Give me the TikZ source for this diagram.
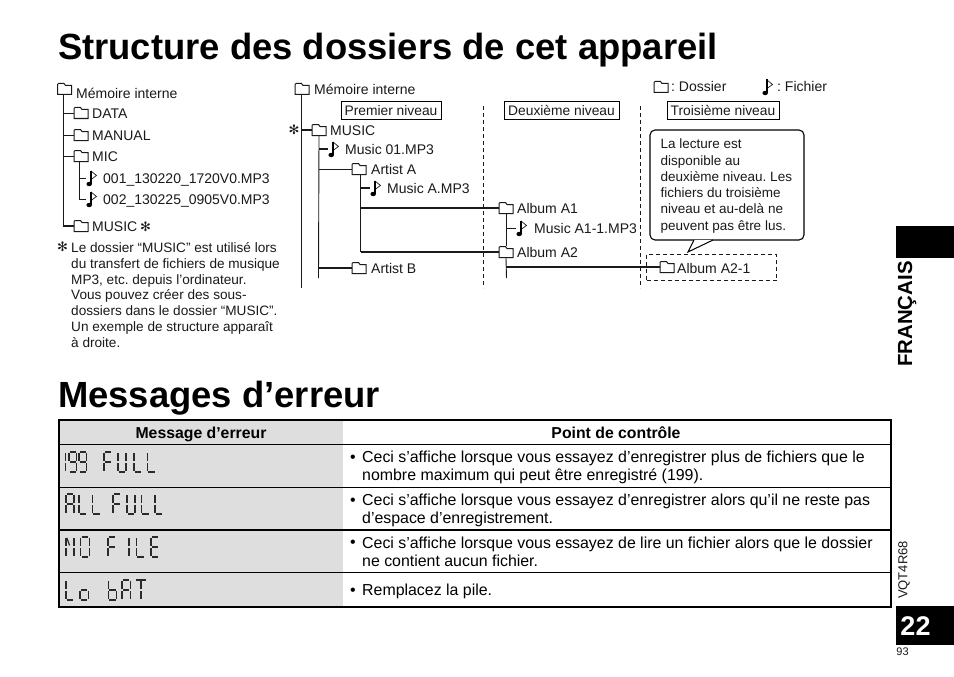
\documentclass[tikz,border=0pt]{standalone}
\usepackage{fontspec}
\setmainfont{Liberation Sans}
\newfontfamily\symfont{DejaVu Sans}
\definecolor{ink}{HTML}{1A1A1A}
\definecolor{panel}{HTML}{DEDEDE}
\definecolor{lcdink}{HTML}{2A2A2A}
\newcommand{\fsz}[1]{\fontsize{#1}{#1}\selectfont}
\frenchspacing
\tikzset{
  txt/.style={anchor=west,inner sep=0pt,text=ink,font=\fsz{14},text height=14pt,text depth=3pt},
  blk/.style={anchor=west,inner sep=0pt,text=ink,align=left},
  sym/.style={anchor=center,inner sep=0pt,text=ink,font=\symfont\fsz{13}},
  title/.style={anchor=base west,inner sep=0pt,text=black,font=\bfseries\fsz{36.4}},
  cell/.style={anchor=west,inner sep=0pt,text=black,align=left,font=\fontsize{15.9}{18}\selectfont},
  bul/.style={anchor=center,inner sep=0pt,text=black,font=\fsz{15.9}},
  head/.style={anchor=center,inner sep=0pt,text=black,font=\bfseries\fsz{15.8},text height=14pt,text depth=3pt},
  lvl/.style={draw=black,line width=1pt,inner sep=0pt,text=ink,font=\fsz{13.8},minimum height=17pt},
  ln/.style={draw=ink,line width=.9pt},
  lnb/.style={draw=ink,line width=1.8pt},
  dsh/.style={draw=ink,line width=.9pt,dash pattern=on 4pt off 3pt},
  fld box/.style={inner sep=0pt,minimum width=14pt,minimum height=11pt},
  nte box/.style={inner sep=0pt,minimum width=9pt,minimum height=15pt},
  lcdseg/.style={draw=lcdink,line width=1.2pt},
  rule/.style={draw=black,line width=1pt},
  rulec/.style={draw=black,line width=2pt},
}
% folder icon: named node and outline
\newcommand{\fld}[3]{%
  \node[fld box] (#1) at (#2,#3) {};
  \draw[ink,line width=1pt,fill=white,shift={(#2,#3)}]
    (-7,5.5)--(-7,-4.5)--(-6,-5.5)--(-.5,-5.5)--(1,-3.5)--(7,-3.5)--(7,5.5)--cycle;}
% music note icon: named node and outline
\newcommand{\nte}[3]{%
  \node[nte box] (#1) at (#2,#3) {};
  \begin{scope}[shift={(#2,#3)}]
    \draw[ink,line width=.7pt] (0,-7)--(5.5,-2.5)--(0,1.5);
    \draw[black,line width=1.6pt] (0,-7.5)--(0,6);
    \fill[black] (-1.8,6) ellipse (2.8pt and 2.2pt);
  \end{scope}}
% seven-segment display
\newcommand{\LcdSa}{\draw[lcdseg] (.12,0)--(.88,0);}
\newcommand{\LcdSb}{\draw[lcdseg] (1,.05)--(1,.45);}
\newcommand{\LcdSc}{\draw[lcdseg] (1,.55)--(1,.95);}
\newcommand{\LcdSd}{\draw[lcdseg] (.12,1)--(.88,1);}
\newcommand{\LcdSe}{\draw[lcdseg] (0,.55)--(0,.95);}
\newcommand{\LcdSf}{\draw[lcdseg] (0,.05)--(0,.45);}
\newcommand{\LcdSg}{\draw[lcdseg] (.12,.5)--(.88,.5);}
\newcommand{\LcdSh}{\draw[lcdseg] (.1,.04)--(.45,.42);}
\newcommand{\LcdSj}{\draw[lcdseg] (.5,.05)--(.5,.45);}
\newcommand{\LcdSk}{\draw[lcdseg] (.5,.55)--(.5,.95);}
\newcommand{\lcdglyph}[4]{%
  \begin{scope}[shift={(#1,#2)},x=#3pt,y=-20pt]
    \foreach \s in {#4} {\csname LcdS\s\endcsname}
  \end{scope}}
\begin{document}
\begin{tikzpicture}[x=1pt,y=-1pt]
\useasboundingbox (0,0) rectangle (954,677);
\fill[white] (0,0) rectangle (954,677);

% titles
\node[title] (t1) at (58,60) {Structure des dossiers de cet appareil};
\node[title] (t2) at (58,407) {Messages d’erreur};

% left tree
\fld{a0}{64.5}{89}
\node[txt] (a0t) at (76,93) {Mémoire interne};
\fld{a1}{81}{113}
\fld{a2}{81}{135}
\fld{a3}{81}{156}
\fld{a4}{81}{226}
\nte{a5}{91}{178}
\nte{a6}{91}{199}
\node[txt] (a1t) at (92,113) {DATA};
\node[txt] (a2t) at (92,135) {MANUAL};
\node[txt] (a3t) at (92,156) {MIC};
\node[txt] (a5t) at (103,178) {001\_130220\_1720V0.MP3};
\node[txt] (a6t) at (103,199) {002\_130225\_0905V0.MP3};
\node[txt] (a4t) at (92,226) {MUSIC};
\node[sym] (a4s) at (145.5,227) {✻};
\draw[ln] ([xshift=-1pt]a0.south) |- (a1.west);
\draw[ln] ([xshift=-1pt]a0.south) |- (a2.west);
\draw[ln] ([xshift=-1pt]a0.south) |- (a3.west);
\draw[lnb] ([xshift=-1pt]a0.south) |- (a4.west);
\draw[ln] ([xshift=-1.5pt]a3.south) |- (a5.west);
\draw[ln] ([xshift=-1.5pt]a3.south) |- (a6.west);

% footnote
\node[sym] (n0) at (62.5,247) {✻};
\node[blk,font=\fontsize{13.6}{15.9}\selectfont] (n1) at (71,295) {Le dossier “MUSIC” est utilisé lors\\du transfert de fichiers de musique\\MP3, etc. depuis l’ordinateur.\\Vous pouvez créer des sous-\\dossiers dans le dossier “MUSIC”.\\Un exemple de structure apparaît\\à droite.};

% right tree: level markers
\node[lvl,minimum width=100pt] (l1) at (391,110.5) {Premier niveau};
\node[lvl,minimum width=115pt] (l2) at (561.5,110.5) {Deuxième niveau};
\node[lvl,minimum width=112pt] (l3) at (723,110.5) {Troisième niveau};
\coordinate (d1a) at (483,106);
\coordinate (d1b) at (483,288);
\coordinate (d2a) at (640.5,106);
\coordinate (d2b) at (640.5,288);
\draw[dsh] (d1a) -- (d1b);
\draw[dsh] (d2a) -- (d2b);

\coordinate (endb) at (301.5,288);
\coordinate (endc) at (318.5,278);
\coordinate (endd) at (506.5,278);

\draw[ln] (301.5,95) -- (endb);
\fld{b0}{302}{89}
\node[txt] (b0t) at (314,89) {Mémoire interne};
\node[sym] (b1s) at (294,130) {✻};
\fld{b1}{319}{130}
\node[txt] (b1t) at (330,130) {MUSIC};
\nte{b2}{333}{149}
\node[txt] (b2t) at (345,149) {Music 01.MP3};
\fld{b3}{359}{169}
\node[txt] (b3t) at (371,169) {Artist A};
\nte{b4}{375}{188}
\node[txt] (b4t) at (387,188) {Music A.MP3};
\fld{b5}{506}{208}
\node[txt] (b5t) at (517,208) {Album A1};
\nte{b6}{521}{228}
\node[txt] (b6t) at (534,228) {Music A1-1.MP3};
\fld{b7}{506}{252}
\node[txt] (b7t) at (517,252) {Album A2};
\fld{b8}{359}{268}
\node[txt] (b8t) at (371,268) {Artist B};
\fld{b9}{667}{267}
\node[txt] (b9t) at (677,268) {Album A2-1};

\draw[lnb] (b0.south |- b1) -- (b1.west);
\draw[ln] (b1.south) -- (endc);
\draw[lnb] (b1.south |- b2) -- (b2.west);
\draw[ln] (b1.south |- b3) -- (b3.west);
\draw[lnb] (b1.south |- b8) -- (b8.west);
\draw[ln] ([xshift=1.5pt]b3.south) -- ([xshift=1.5pt]b3.south |- b7);
\draw[lnb] ([xshift=1.5pt]b3.south |- b4) -- (b4.west);
\draw[lnb] ([xshift=1.5pt]b3.south |- b5) -- (b5.west);
\draw[lnb] ([xshift=1.5pt]b3.south |- b7) -- (b7.west);
\draw[ln] (b5.south) -- (b7.north);
\draw[ln] (b5.south |- b6) -- (b6.west);
\draw[ln] (b7.south) -- (endd);
\draw[lnb] (b7.south |- b9) -- (b9.west);

% dashed frame round Album A2-1
\node[dsh,inner sep=0pt,minimum width=130pt,minimum height=26.5pt] (frame) at (711.7,267.3) {};

% legend
\fld{k1}{661}{87}
\node[txt] (k1t) at (671,86) {: Dossier};
\nte{k2}{767}{87}
\node[txt] (k2t) at (777,86) {: Fichier};

% callout
\node[draw=black,line width=1.1pt,rounded corners=5pt,minimum width=154pt,minimum height=110pt] (call) at (727,185) {};
\node[blk,font=\fontsize{13.5}{16.3}\selectfont] (callt) at (660.5,186) {La lecture est\\disponible au\\deuxième niveau. Les\\fichiers du troisième\\niveau et au-delà ne\\peuvent pas être lus.};
\coordinate (ca) at (694,240);
\coordinate (cb) at (688,252);
\coordinate (cc) at (713,240);
\fill[white] (ca) -- (cb) -- (cc) -- cycle;
\draw[draw=black,line width=1pt] (ca) -- (cb) -- (cc);

% table
\fill[panel] (59,420) rectangle (343,606.5);
\draw[rule] (59,444.5) -- (891,444.5);
\draw[rule] (59,487) -- (891,487);
\draw[rulec] (59,530) -- (891,530);
\draw[rule] (59,572) -- (891,572);
\draw[rulec] (59,420) rectangle (891,606.5);
\node[head] (h1) at (201,432.5) {Message d’erreur};
\node[head] (h2) at (616,432.5) {Point de contrôle};

\node[bul] (r1b) at (353,459) {•};
\node[cell] (r1) at (362,467.5) {Ceci s’affiche lorsque vous essayez d’enregistrer plus de fichiers que le\\nombre maximum qui peut être enregistré (199).};
\node[bul] (r2b) at (353,502) {•};
\node[cell] (r2) at (362,510.5) {Ceci s’affiche lorsque vous essayez d’enregistrer alors qu’il ne reste pas\\d’espace d’enregistrement.};
\node[bul] (r3b) at (353,543.5) {•};
\node[cell] (r3) at (362,552) {Ceci s’affiche lorsque vous essayez de lire un fichier alors que le dossier\\ne contient aucun fichier.};
\node[bul] (r4b) at (353,592) {•};
\node[cell] (r4) at (362,591) {Remplacez la pile.};

% LCD messages
\lcdglyph{65.5}{452}{1}{f,e}
\lcdglyph{69}{452}{7.5}{a,b,c,d,f,g}
\lcdglyph{79}{452}{7.5}{a,b,c,d,f,g}
\lcdglyph{104}{452}{8}{a,f,e,g}
\lcdglyph{118}{452}{8}{b,c,d,e,f}
\lcdglyph{134}{452}{8}{d,e,f}
\lcdglyph{147.5}{452}{8}{d,e,f}

\lcdglyph{66}{494}{8}{a,b,c,e,f,g}
\lcdglyph{79}{494}{8}{d,e,f}
\lcdglyph{92.5}{494}{8}{d,e,f}
\lcdglyph{113}{494}{8}{a,f,e,g}
\lcdglyph{127}{494}{8}{b,c,d,e,f}
\lcdglyph{141.5}{494}{8}{d,e,f}
\lcdglyph{155}{494}{8}{d,e,f}

\lcdglyph{66}{537}{8}{b,c,e,f,h}
\lcdglyph{80.5}{537}{9}{a,b,c,d,e,f}
\lcdglyph{108}{537}{8}{a,f,e,g}
\lcdglyph{125}{537}{8}{j,k}
\lcdglyph{136.5}{537}{8}{d,e,f}
\lcdglyph{151}{537}{8.5}{a,d,e,f,g}

\lcdglyph{66}{580}{8}{d,e,f}
\lcdglyph{80}{580}{8.5}{c,d,e,g}
\lcdglyph{108.5}{580}{8}{c,d,e,f,g}
\lcdglyph{122}{580}{8.5}{a,b,c,e,f,g}
\lcdglyph{135}{580}{12}{a,j,k}

% side tabs
\fill[black] (896,226) rectangle (954,258);
\node[anchor=center,inner sep=0pt,rotate=90,text=black,font=\bfseries\fsz{20.4}] (fr) at (907,314) {FRANÇAIS};
\node[anchor=center,inner sep=0pt,rotate=90,text=ink,font=\fsz{13}] (vq) at (904,570) {VQT4R68};
\fill[black] (896,606) rectangle (954,645);
\node[anchor=center,inner sep=0pt,text=white,font=\bfseries\fsz{27}] (pg) at (915.5,626) {22};
\node[anchor=center,inner sep=0pt,text=ink,font=\fsz{11}] (pn) at (902.5,652) {93};
\end{tikzpicture}
\end{document}
